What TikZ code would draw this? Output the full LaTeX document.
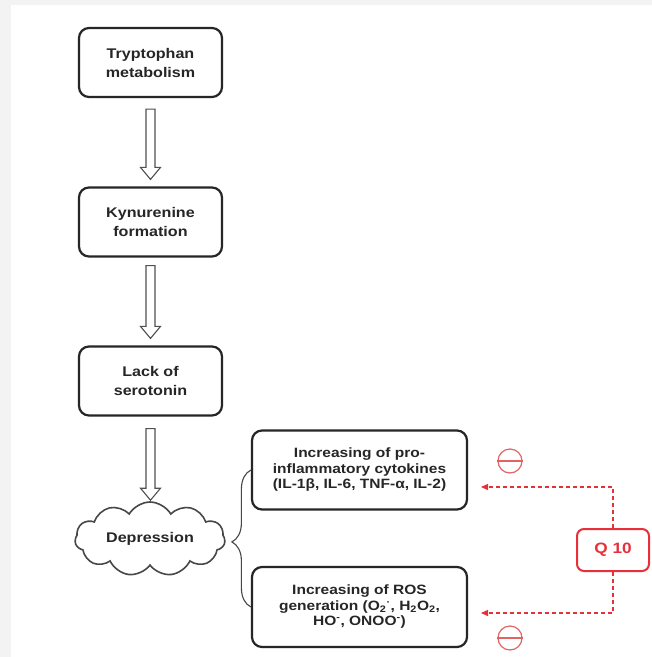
\documentclass[tikz,border=0pt]{standalone}
\usepackage{fontspec}
\setmainfont{Liberation Sans}[FakeStretch=1.15]
\usetikzlibrary{shapes.symbols,calc,arrows.meta,decorations.pathreplacing}

\definecolor{ink}{HTML}{262626}
\definecolor{qred}{HTML}{E8303A}
\definecolor{qsoft}{HTML}{E06464}
\definecolor{frame}{HTML}{F3F3F3}

\tikzset{
  stepbox/.style={draw=ink, line width=2.2pt, rounded corners=10pt,
    minimum width=143pt, minimum height=69pt, inner sep=2pt, align=center,
    text=ink, font=\fontsize{14}{19}\selectfont\bfseries},
  effectbox/.style={stepbox, minimum width=215pt, minimum height=79pt,
    font=\fontsize{13.5}{15.5}\selectfont\bfseries},
  moodcloud/.style={cloud, cloud puffs=11, cloud puff arc=120,
    cloud ignores aspect, minimum width=150pt, minimum height=74pt,
    draw=ink!85, line width=1.6pt, inner sep=0pt, text=ink,
    font=\fontsize{14}{17}\selectfont\bfseries},
  hollow/.style={draw=ink!80, line width=1.1pt, fill=white},
  bracket/.style={draw=ink!85, line width=1.1pt,
    decorate, decoration={brace, amplitude=19pt, aspect=0.475}},
  qbox/.style={draw=qred, line width=2pt, rounded corners=7pt,
    minimum width=72pt, minimum height=42pt, text=qred,
    font=\fontsize{15}{17}\selectfont\bfseries},
  redlink/.style={draw=qred, line width=1.3pt, dash pattern=on 4pt off 3pt,
    -{Triangle[length=7pt,width=6pt]}},
  minus/.style={circle, draw=qsoft, line width=1.2pt, minimum size=24pt,
    inner sep=0pt}
}

% hollow block arrow between two nodes: #1 from, #2 to, #3 top gap, #4 bottom gap
\newcommand\blockarrow[4]{%
  \path[hollow] let \p1=(#1.south), \p2=(#2.north) in
    (\x1-4.5pt,\y1-#3) -- (\x1-4.5pt,\y2+#4+12pt) -- (\x1-10pt,\y2+#4+12pt)
    -- (\x1,\y2+#4) -- (\x1+10pt,\y2+#4+12pt) -- (\x1+4.5pt,\y2+#4+12pt)
    -- (\x1+4.5pt,\y1-#3) -- cycle;}

\begin{document}
\begin{tikzpicture}[x=1pt,y=-1pt]
  % page frame
  \fill[frame] (0,0) rectangle (652,657);
  \fill[white] (11,5) rectangle (652,657);
  \useasboundingbox (0,0) rectangle (652,657);

  % main pathway
  \node[stepbox] (trp) at (150.5,62.5) {Tryptophan\\metabolism};
  \node[stepbox] (kyn) at (150.5,222) {Kynurenine\\formation};
  \node[stepbox] (ser) at (150.5,381) {Lack of\\serotonin};
  \node[moodcloud] (dep) at (150,539) {Depression};

  \blockarrow{trp}{kyn}{11pt}{7pt}
  \blockarrow{kyn}{ser}{8pt}{7pt}
  \blockarrow{ser}{dep}{12pt}{1pt}

  % consequences
  \node[effectbox] (cyt) at (359.5,470)
    {Increasing of pro-\\inflammatory cytokines\\(IL-1β, IL-6, TNF-α, IL-2)};
  \node[effectbox, minimum height=80pt] (ros) at (359.5,607)
    {Increasing of ROS\\generation (O\textsubscript{2}\textsuperscript{·}, H\textsubscript{2}O\textsubscript{2},\\HO\textsuperscript{-}, ONOO\textsuperscript{-})};

  \draw[bracket] (ros.west) -- (cyt.west);

  % Q10 inhibition
  \node[qbox] (q10) at (613,550) {Q 10};
  \coordinate (hitcyt) at (481,487);
  \coordinate (hitros) at (481,613);
  \draw[redlink] (q10.north) |- (hitcyt);
  \draw[redlink] (q10.south) |- (hitros);

  \node[minus] (m1) at (510,461) {};
  \draw[qsoft, line width=1.2pt] (m1.west) -- (m1.east);
  \node[minus] (m2) at (510,638) {};
  \draw[qsoft, line width=1.2pt] (m2.west) -- (m2.east);
\end{tikzpicture}
\end{document}
